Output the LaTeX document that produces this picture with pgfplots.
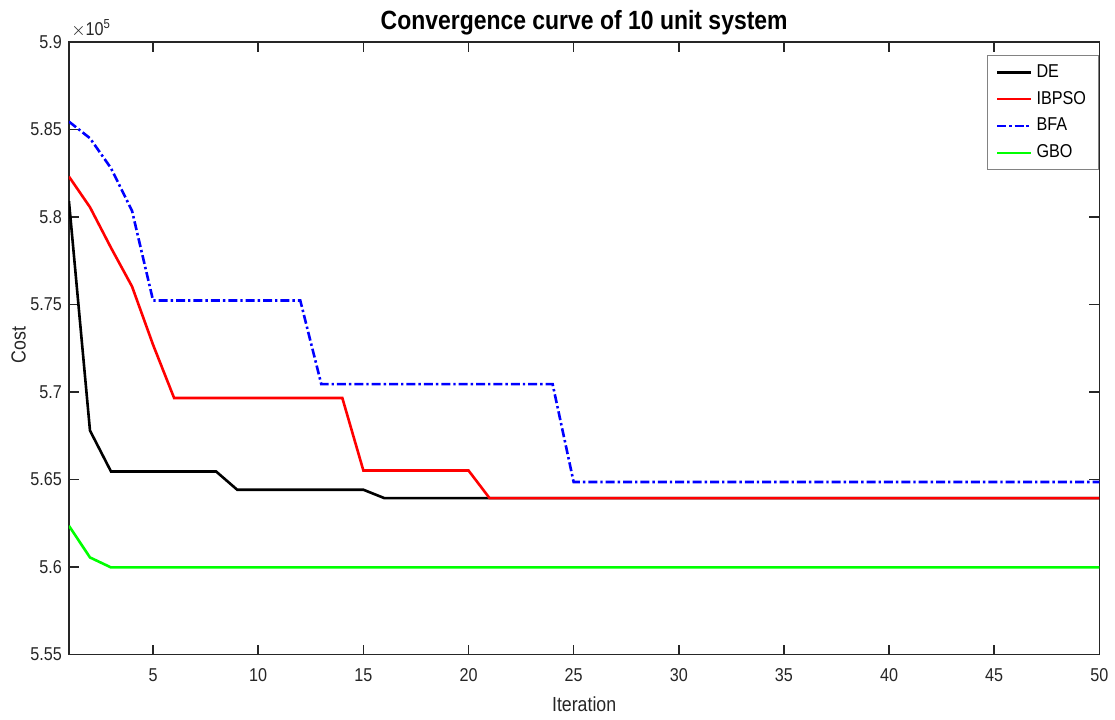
\documentclass[border=0pt]{standalone}
\usepackage{pgfplots}
\pgfplotsset{compat=1.18}
\usepackage{fontspec}
\setmainfont{Liberation Sans}[FakeStretch=0.87]
\definecolor{mgray}{RGB}{38,38,38}
\definecolor{lgray}{RGB}{130,130,130}
\begin{document}
\begin{tikzpicture}
\begin{axis}[
    scale only axis,
    width=515.5pt, height=306.5pt,
    xmin=1, xmax=50, ymin=555000, ymax=590000,
    xtick={5,10,...,50},
    ytick={555000,560000,565000,570000,575000,580000,585000,590000},
    yticklabels={5.55,5.6,5.65,5.7,5.75,5.8,5.85,5.9},
    scaled y ticks=false,
    tick align=inside,
    major tick length=5pt,
    axis line style={mgray, line width=0.8pt},
    every tick/.style={mgray, line width=0.8pt},
    tick label style={font=\fontsize{9.3}{11}\selectfont, text=mgray},
    xticklabel style={yshift=-3.5pt},
    /pgf/number format/assume math mode=true,
    xlabel={Iteration}, ylabel={Cost},
    every axis x label/.style={at={([yshift=-28.5pt]rel axis cs:0.5,0)}, anchor=base,
        font=\fontsize{10.2}{12}\selectfont, text=mgray},
    every axis y label/.style={at={([shift={(-25.25pt,1.75pt)}]rel axis cs:0,0.5)}, anchor=center, rotate=90,
        font=\fontsize{10.2}{12}\selectfont, text=mgray},
    title={\bfseries Convergence curve of 10 unit system},
    every axis title/.style={at={([yshift=6pt]rel axis cs:0.5,1)}, anchor=base,
        font=\fontsize{13.2}{15}\selectfont},
    legend style={at={(rel axis cs:1,1)}, anchor=north east, xshift=-0.5pt, yshift=-6.5pt,
        draw=lgray, font=\fontsize{9.3}{11}\selectfont, row sep=1.5pt,
        inner xsep=4pt, inner ysep=2.5pt},
    legend cell align=left,
]
\addplot[black, line width=1.3pt] coordinates {
(1,580900) (2,567800) (3,565460) (8,565460) (9,564420) (15,564420) (16,563940) (50,563940)};
\addlegendentry{DE}
\addplot[red, line width=1.3pt] coordinates {
(1,582310) (2,580560) (3,578240) (4,576030) (5,572700) (6,569660) (14,569660)
(15,565520) (20,565520) (21,563940) (50,563940)};
\addlegendentry{IBPSO}
\addplot[blue, line width=1.3pt, dash pattern=on 4.5pt off 1.5pt on 1.2pt off 1.5pt] coordinates {
(1,585450) (2,584500) (3,582790) (4,580350) (5,575230) (12,575230) (13,570450)
(24,570450) (25,564860) (50,564860)};
\addlegendentry{BFA}
\addplot[green, line width=1.3pt] coordinates {
(1,562360) (2,560550) (3,559980) (50,559980)};
\addlegendentry{GBO}
\end{axis}
\node[anchor=south west, text=mgray, font=\fontsize{9.3}{11}\selectfont, inner sep=1pt]
  at ([yshift=1pt]current axis.north west) {$\times$10\textsuperscript{5}};
\path (current axis.south west) ++(-34.5pt,-32.5pt) rectangle ([shift={(7.5pt,21pt)}]current axis.north east);
\end{tikzpicture}
\end{document}
